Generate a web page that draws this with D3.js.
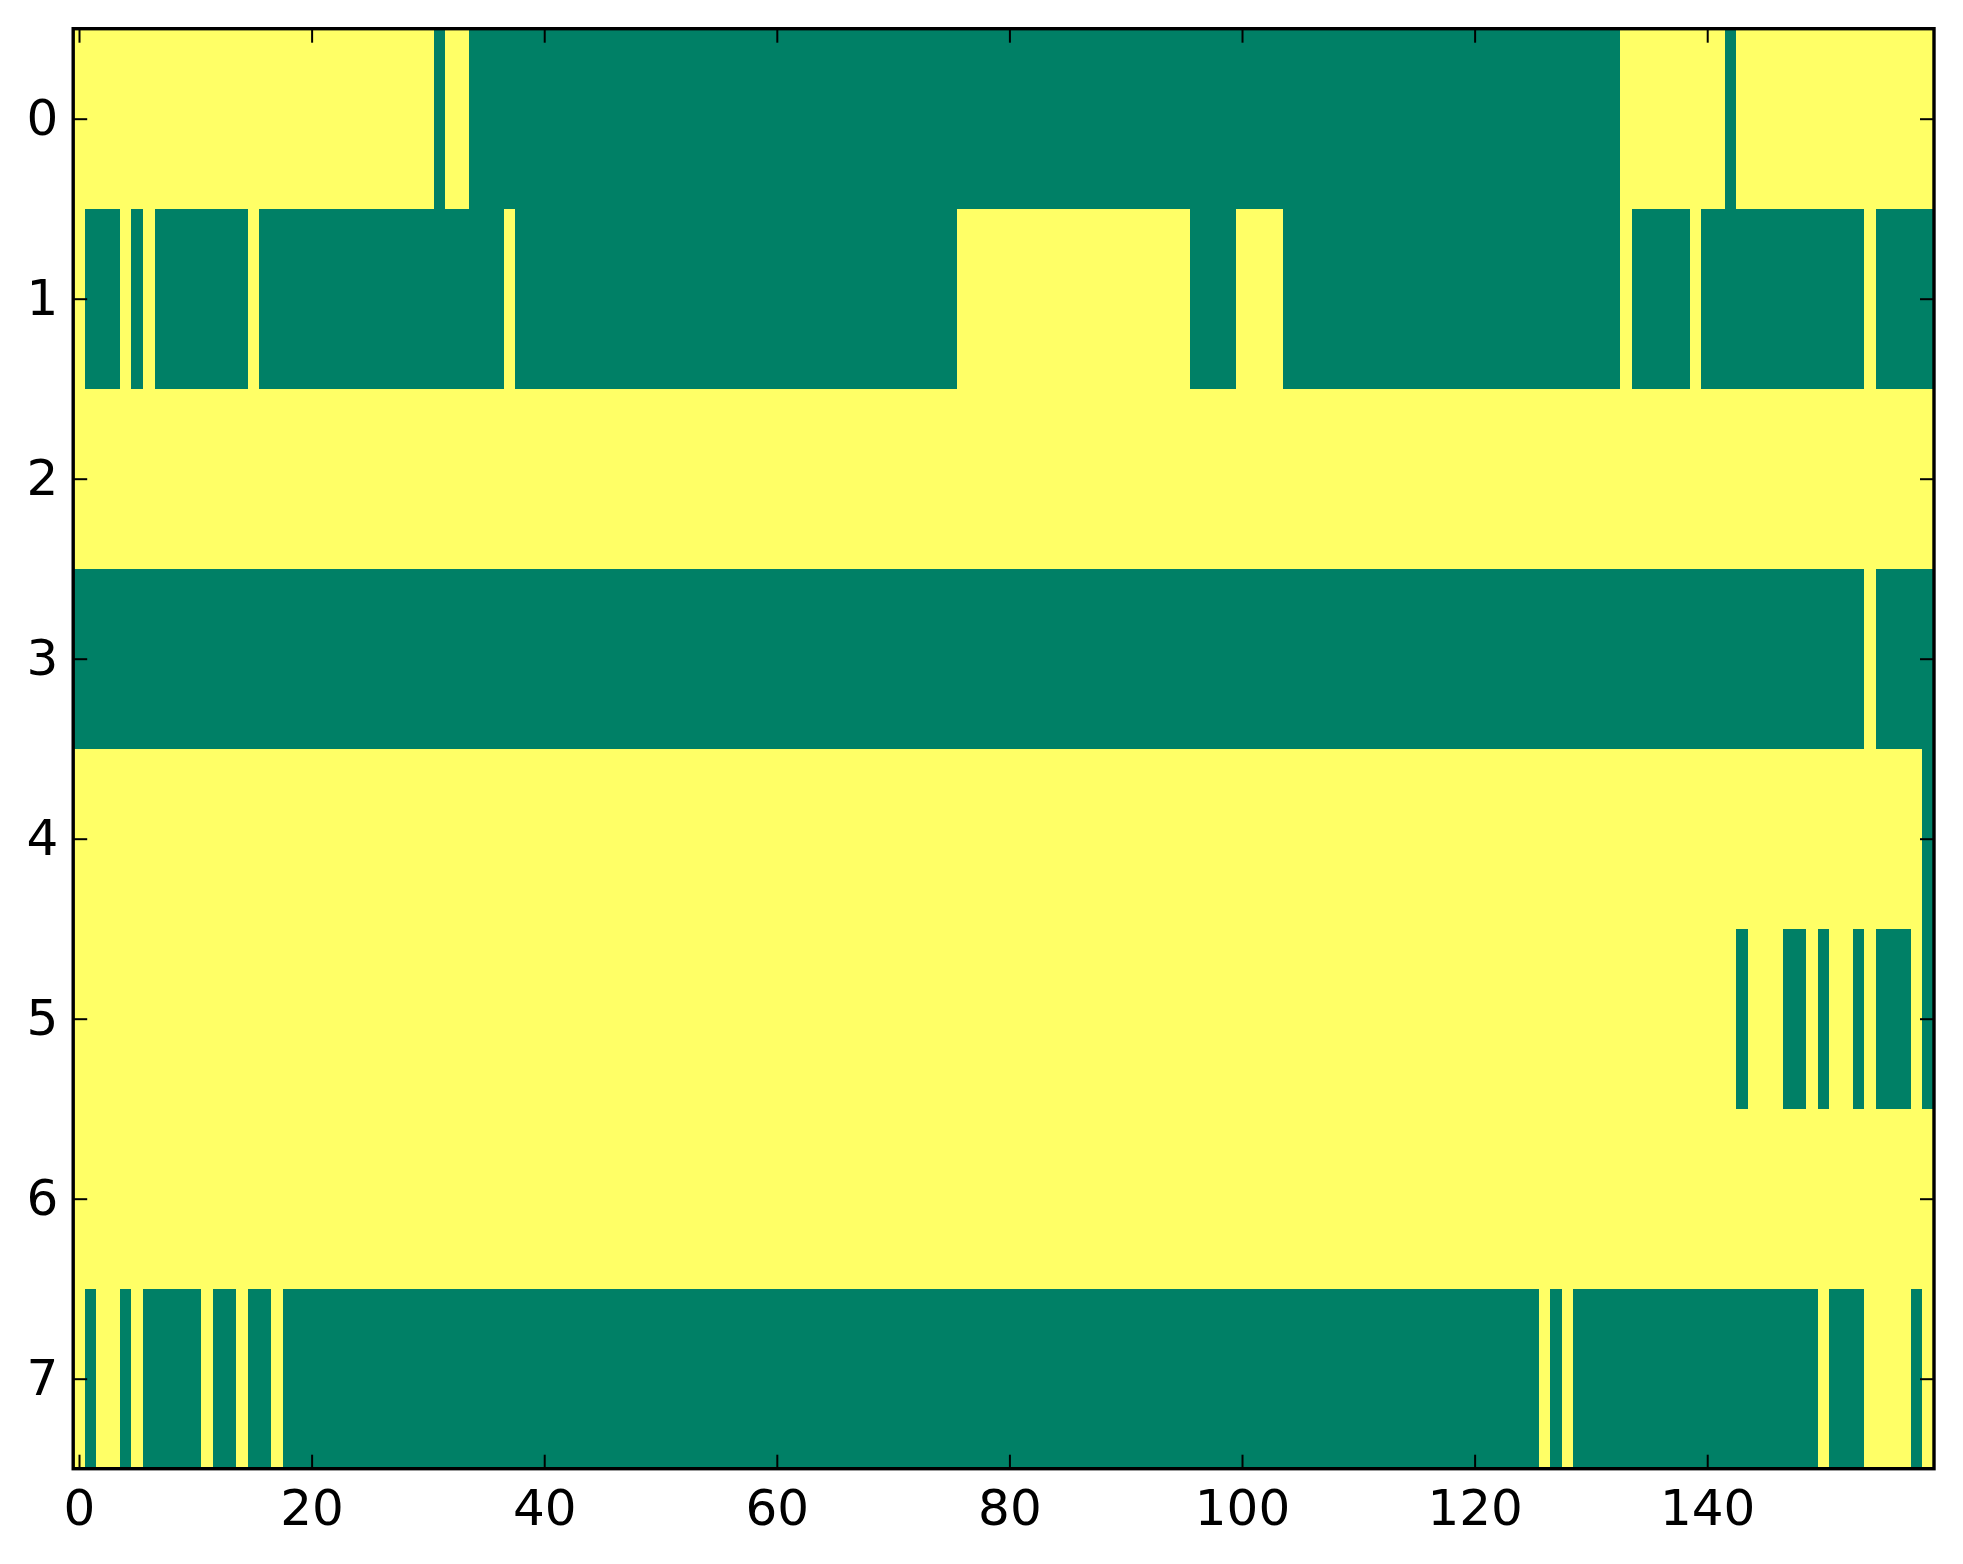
<!DOCTYPE html>
<html>
<head>
<meta charset="utf-8">
<script src="https://cdn.jsdelivr.net/npm/d3@7"></script>
<style>
  html, body { margin: 0; padding: 0; background: #ffffff; }
  svg { display: block; }
</style>
</head>
<body>
<svg id="chart" width="1963" height="1564"></svg>
<script>
// Row labels (image rows) and number of columns
const rowLabels = [0, 1, 2, 3, 4, 5, 6, 7];
const nCols = 160;
const xTickValues = [0, 20, 40, 60, 80, 100, 120, 140];

// Cell values, run-length encoded per row:
// each pair is [value, run length]; 1 = yellow (high), 0 = green (low)
const row0 = [[1,31],[0,1],[1,2],[0,99],[1,9],[0,1],[1,17]];
const row1 = [[1,1],[0,3],[1,1],[0,1],[1,1],[0,8],[1,1],[0,21],[1,1],[0,38],[1,20],[0,4],[1,4],[0,29],[1,1],[0,5],[1,1],[0,14],[1,1],[0,5]];
const row2 = [[1,160]];
const row3 = [[0,154],[1,1],[0,5]];
const row4 = [[1,159],[0,1]];
const row5 = [[1,143],[0,1],[1,3],[0,2],[1,1],[0,1],[1,2],[0,1],[1,1],[0,3],[1,1],[0,1]];
const row6 = [[1,160]];
const row7 = [[1,1],[0,1],[1,2],[0,1],[1,1],[0,5],[1,1],[0,2],[1,1],[0,2],[1,1],[0,108],[1,1],[0,1],[1,1],[0,21],[1,1],[0,3],[1,4],[0,1],[1,1]];
const rowRuns = [row0, row1, row2, row3, row4, row5, row6, row7];

// Expand runs into cells
const cells = [];
rowRuns.forEach((runs, r) => {
  let c = 0;
  runs.forEach(([v, len]) => {
    for (let k = 0; k < len; k++) { cells.push({row: r, col: c, value: v}); c++; }
  });
});

const svg = d3.select("#chart");
const plot = {left: 73.2, right: 1934, top: 28.7, bottom: 1468.7};

const x = d3.scaleLinear().domain([-0.5, nCols - 0.5]).range([plot.left, plot.right]);
const y = d3.scaleLinear().domain([-0.5, rowLabels.length - 0.5]).range([plot.top, plot.bottom]);
// matplotlib "summer" colormap endpoints
const color = d3.scaleLinear().domain([0, 1]).range(["#008066", "#ffff66"]);

svg.append("rect").attr("width", 1963).attr("height", 1564).attr("fill", "#ffffff");

svg.append("g")
  .selectAll("rect")
  .data(cells)
  .join("rect")
  .attr("x", d => x(d.col - 0.5))
  .attr("y", d => y(d.row - 0.5))
  .attr("width", d => x(d.col + 0.5) - x(d.col - 0.5) + 0.6)
  .attr("height", d => y(d.row + 0.5) - y(d.row - 0.5) + 0.6)
  .attr("fill", d => color(d.value))
  .attr("shape-rendering", "crispEdges");

const fontSize = 50;
const tickLen = 14;

function styleAxis(g, showLabels) {
  g.select(".domain").remove();
  g.selectAll(".tick line").attr("stroke", "#000").attr("stroke-width", 2);
  g.selectAll(".tick text")
    .attr("fill", "#000")
    .style("font-family", "'DejaVu Sans', sans-serif")
    .style("font-size", fontSize + "px");
  if (!showLabels) g.selectAll(".tick text").remove();
}

// bottom
svg.append("g")
  .attr("transform", `translate(0,${plot.bottom})`)
  .call(d3.axisBottom(x).tickValues(xTickValues).tickFormat(d3.format("d")).tickSizeInner(-tickLen).tickSizeOuter(0).tickPadding(21))
  .call(g => styleAxis(g, true));
// top
svg.append("g")
  .attr("transform", `translate(0,${plot.top})`)
  .call(d3.axisTop(x).tickValues(xTickValues).tickSizeInner(-tickLen).tickSizeOuter(0))
  .call(g => styleAxis(g, false));
// left
svg.append("g")
  .attr("transform", `translate(${plot.left},0)`)
  .call(d3.axisLeft(y).tickValues(rowLabels).tickFormat(d3.format("d")).tickSizeInner(-tickLen).tickSizeOuter(0).tickPadding(15))
  .call(g => styleAxis(g, true));
// right
svg.append("g")
  .attr("transform", `translate(${plot.right},0)`)
  .call(d3.axisRight(y).tickValues(rowLabels).tickSizeInner(-tickLen).tickSizeOuter(0))
  .call(g => styleAxis(g, false));

// frame
svg.append("rect")
  .attr("x", plot.left).attr("y", plot.top)
  .attr("width", plot.right - plot.left).attr("height", plot.bottom - plot.top)
  .attr("fill", "none").attr("stroke", "#000").attr("stroke-width", 3.4);
</script>
</body>
</html>
